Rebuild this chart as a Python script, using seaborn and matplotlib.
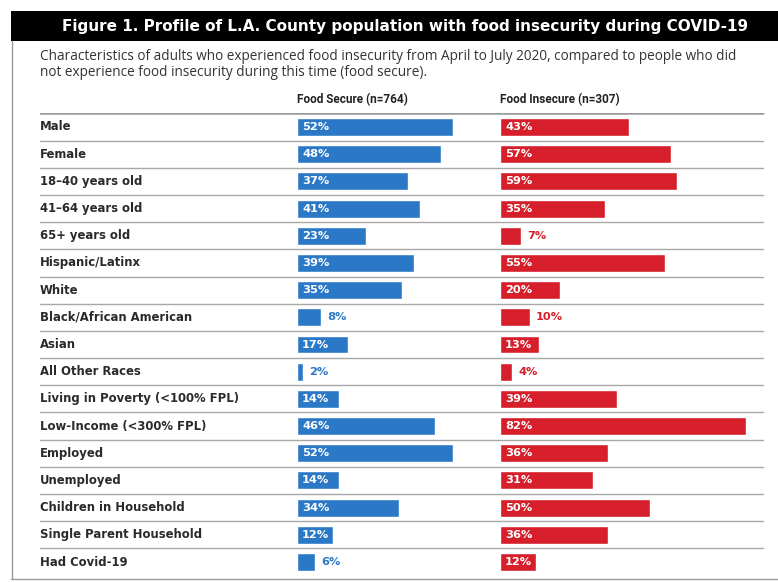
import seaborn as sb
import matplotlib.pyplot as plt
from matplotlib.patches import Rectangle
from matplotlib.lines import Line2D

categories = ["Male", "Female", "18–40 years old", "41–64 years old", "65+ years old",
              "Hispanic/Latinx", "White", "Black/African American", "Asian", "All Other Races",
              "Living in Poverty (<100% FPL)", "Low-Income (<300% FPL)", "Employed", "Unemployed",
              "Children in Household", "Single Parent Household", "Had Covid-19"]
food_secure = [52, 48, 37, 41, 23, 39, 35, 8, 17, 2, 14, 46, 52, 14, 34, 12, 6]
food_insecure = [43, 57, 59, 35, 7, 55, 20, 10, 13, 4, 39, 82, 36, 31, 50, 36, 12]
col_titles = ["Food Secure (n=764)", "Food Insecure (n=307)"]
title = "Figure 1. Profile of L.A. County population with food insecurity during COVID-19"
subtitle = ["Characteristics of adults who experienced food insecurity from April to July 2020, compared to people who did",
            "not experience food insecurity during this time (food secure)."]

BLUE = "#2b79c6"
RED = "#d61f2a"
W, H = 778, 582
PX = 3.0  # pixels per percent

def fx(px):
    return px / W
def fy(py):
    return 1 - py / H

sb.set_theme(style="white")
plt.rcParams['font.family'] = ['DejaVu Sans']

fig = plt.figure(figsize=(W / 100, H / 100), dpi=100)
fig.patch.set_facecolor("white")

# header bar + frame
fig.patches.append(Rectangle((fx(11), fy(41)), 1 - fx(11), 30 / H, transform=fig.transFigure,
                             facecolor="black", edgecolor="none"))
fig.text(fx(62), fy(26.5), title, ha="left", va="center", color="white",
         fontsize=11, fontweight="bold", family="DejaVu Sans")
fig.lines.append(Line2D([fx(11.5), fx(11.5)], [fy(41), fy(579)], transform=fig.transFigure,
                        color="#9a9a9a", lw=1))
fig.lines.append(Line2D([fx(11), 1], [fy(579), fy(579)], transform=fig.transFigure,
                        color="#9a9a9a", lw=1))

fig.text(fx(40), fy(57), subtitle[0], ha="left", va="center", color="#333333", fontsize=9.8, family="Open Sans")
fig.text(fx(40), fy(72), subtitle[1], ha="left", va="center", color="#333333", fontsize=9.8, family="Open Sans")
fig.text(fx(297), fy(100), col_titles[0], ha="left", va="center", color="#222222",
         fontsize=8.5, fontweight="bold", family="Roboto")
fig.text(fx(500), fy(100), col_titles[1], ha="left", va="center", color="#222222",
         fontsize=8.5, fontweight="bold", family="Roboto")

# row area
top, bottom = 113.4, 575.6
n = len(categories)
ax = fig.add_axes([fx(40), fy(bottom), fx(765 - 40), (bottom - top) / H])
ax.set_xlim(0, 1)
ax.set_ylim(n - 0.5, -0.5)
ax.axis("off")
ax.axhline(-0.5, xmin=0, xmax=0.997, color="#9a9a9a", lw=1.8)
for i, cat in enumerate(categories):
    ax.text(0, i, cat, ha="left", va="center", color="#2a2a2a", fontsize=8.4, fontweight="bold")
    if i < n - 1:
        ax.axhline(i + 0.5, xmin=0, xmax=0.997, color="#a8a8a8", lw=1)

def bars(x0, values, color):
    bax = fig.add_axes([fx(x0), fy(bottom), fx(765 - x0), (bottom - top) / H])
    sb.barplot(x=values, y=categories, orient="h", color=color, saturation=1, width=0.66, ax=bax)
    bax.set_xlim(0, (765 - x0) / PX)
    bax.set_ylim(n - 0.5, -0.5)
    bax.axis("off")
    bax.patch.set_alpha(0)
    for i, v in enumerate(values):
        if v >= 12:
            bax.text(5 / PX, i, f"{v}%", ha="left", va="center", color="white",
                     fontsize=8.2, fontweight="bold")
        else:
            bax.text(v + 6 / PX, i, f"{v}%", ha="left", va="center", color=color,
                     fontsize=8.2, fontweight="bold")
    return bax

bars(297, food_secure, BLUE)
bars(500, food_insecure, RED)

plt.savefig("out.png", dpi=100)
